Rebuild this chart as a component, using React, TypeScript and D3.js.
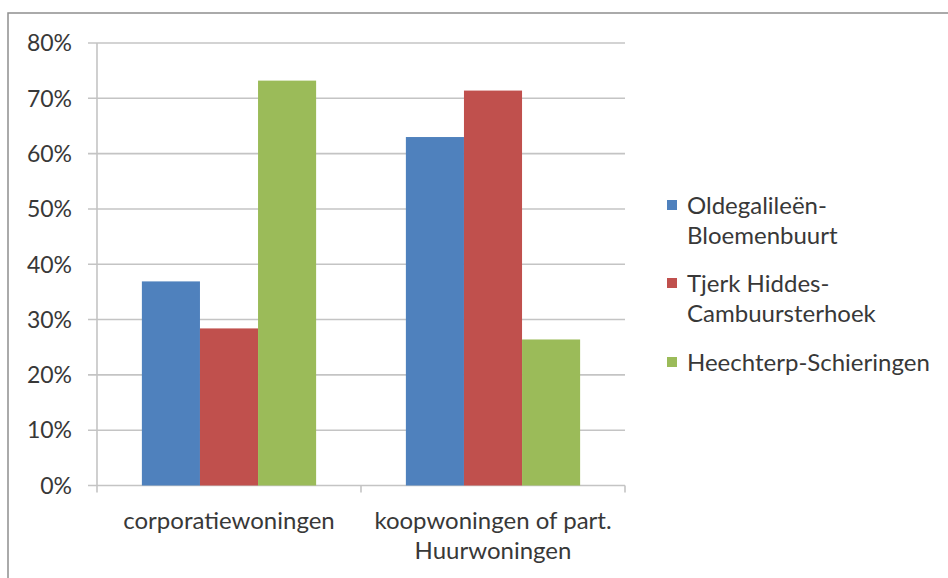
import React from "react";
import * as d3 from "d3";

const categories = ["corporatiewoningen", "koopwoningen of part. Huurwoningen"];
const categoryLines = [["corporatiewoningen"], ["koopwoningen of part.", "Huurwoningen"]];
const seriesNames = ["Oldegalileën-Bloemenbuurt", "Tjerk Hiddes-Cambuursterhoek", "Heechterp-Schieringen"];
const legendLines = [["Oldegalileën-", "Bloemenbuurt"], ["Tjerk Hiddes-", "Cambuursterhoek"], ["Heechterp-Schieringen"]];
const seriesColors = ["#4F81BD", "#C0504D", "#9BBB59"];
const values = [
  [36.9, 63.0],
  [28.4, 71.4],
  [73.2, 26.4],
];
const yTicks = [0, 10, 20, 30, 40, 50, 60, 70, 80];

const W = 948;
const H = 578;
const FONT = "Lato, 'Open Sans', sans-serif";
const TEXT = "#383838";
const GRID = "#c4c4c4";

export default function App() {
  const left = 97;
  const right = 625;
  const top = 43;
  const bottom = 485.5;

  const x0 = d3.scaleBand<string>().domain(categories).range([left, right]).paddingInner(0.34).paddingOuter(0.17);
  const x1 = d3.scaleBand<string>().domain(seriesNames).range([0, x0.bandwidth()]);
  const y = d3.scaleLinear().domain([0, 80]).range([bottom, top]);

  return (
    <svg width={W} height={H} style={{ position: "absolute", left: 0, top: 0 }} fontFamily={FONT}>
      <rect x={0} y={0} width={W} height={H} fill="#fff" />
      <rect x={8} y={13} width={W + 20} height={H + 20} fill="none" stroke="#8f8f8f" strokeWidth={1.5} />

      {yTicks.map((t) => (
        <g key={t}>
          <line x1={left - 9} x2={right} y1={y(t)} y2={y(t)} stroke={GRID} strokeWidth={1.6} />
          <text x={72} y={y(t)} dy="0.36em" textAnchor="end" fontSize={23} fill={TEXT}>
            {t}%
          </text>
        </g>
      ))}
      <line x1={left} x2={left} y1={top} y2={bottom} stroke={GRID} strokeWidth={1.6} />

      {categories.map((c, ci) => (
        <g key={c} transform={`translate(${x0(c)},0)`}>
          {seriesNames.map((s, si) => (
            <rect
              key={s}
              x={x1(s)}
              y={y(values[si][ci])}
              width={x1.bandwidth()}
              height={bottom - y(values[si][ci])}
              fill={seriesColors[si]}
            />
          ))}
        </g>
      ))}

      {[left, (left + right) / 2, right].map((tx, i) => (
        <line key={i} x1={tx} x2={tx} y1={bottom} y2={bottom + 7} stroke={GRID} strokeWidth={1.6} />
      ))}

      {categories.map((c, ci) => (
        <text key={c} textAnchor="middle" fontSize={24} fill={TEXT}>
          {categoryLines[ci].map((ln, li) => (
            <tspan key={li} x={(x0(c) as number) + x0.bandwidth() / 2} y={529 + li * 30}>
              {ln}
            </tspan>
          ))}
        </text>
      ))}

      {seriesNames.map((s, si) => {
        const cy = [205, 283, 362][si];
        return (
          <g key={s}>
            <rect x={667} y={cy - 5} width={10} height={10} fill={seriesColors[si]} />
            <text fontSize={24} fill={TEXT}>
              {legendLines[si].map((ln, li) => (
                <tspan key={li} x={687} y={cy + li * 30} dy="0.36em">
                  {ln}
                </tspan>
              ))}
            </text>
          </g>
        );
      })}
    </svg>
  );
}
